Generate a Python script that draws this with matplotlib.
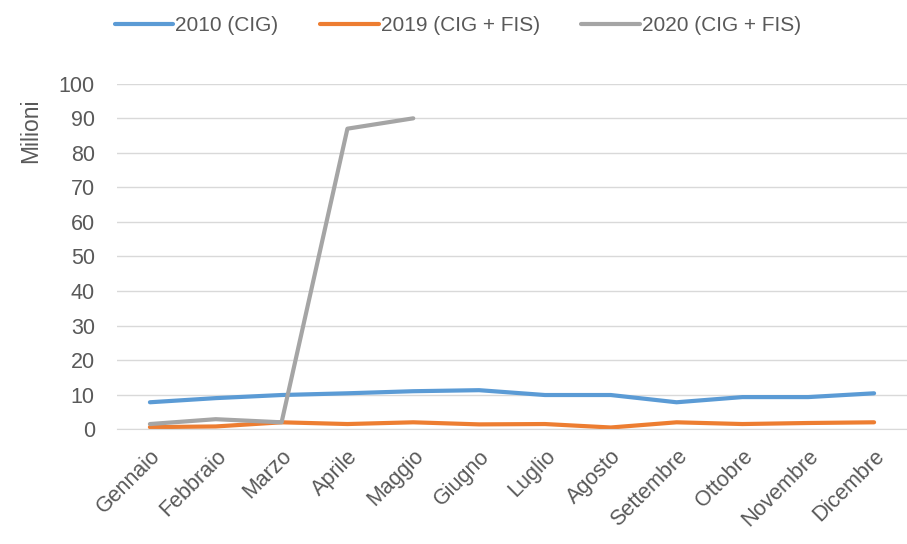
import matplotlib.pyplot as plt

mesi = ['Gennaio', 'Febbraio', 'Marzo', 'Aprile', 'Maggio', 'Giugno',
        'Luglio', 'Agosto', 'Settembre', 'Ottobre', 'Novembre', 'Dicembre']
cig_2010 = [7.8, 9.0, 9.9, 10.4, 11.0, 11.3, 9.9, 9.9, 7.8, 9.3, 9.3, 10.4]
cig_fis_2019 = [0.6, 0.8, 2.0, 1.5, 2.0, 1.4, 1.5, 0.5, 2.0, 1.5, 1.8, 2.0]
cig_fis_2020 = [1.5, 2.9, 2.0, 87.0, 90.0]

plt.rcParams['font.family'] = ['Liberation Sans', 'DejaVu Sans']
grigio = '#595959'

fig = plt.figure(figsize=(9.07, 5.44), dpi=100)
ax = fig.add_axes([0.129, 0.211, 0.871, 0.635])

x = list(range(len(mesi)))
ax.plot(x, cig_2010, color='#5B9BD5', lw=3, solid_capstyle='round', label='2010 (CIG)')
ax.plot(x, cig_fis_2019, color='#ED7D31', lw=3, solid_capstyle='round', label='2019 (CIG + FIS)')
ax.plot(x[:len(cig_fis_2020)], cig_fis_2020, color='#A5A5A5', lw=3,
        solid_capstyle='round', label='2020 (CIG + FIS)')

ax.set_xlim(-0.5, 11.5)
ax.set_ylim(0, 100)
ax.set_yticks(range(0, 101, 10))
ax.set_xticks(x)
ax.set_xticklabels(mesi, rotation=45, ha='right', rotation_mode='anchor')
ax.tick_params(axis='both', length=0, colors=grigio, labelsize=15.5)
ax.tick_params(axis='y', pad=16)
ax.tick_params(axis='x', pad=12)
ax.grid(axis='y', color='#d9d9d9', lw=1)
ax.set_axisbelow(True)
for s in ['top', 'right', 'left']:
    ax.spines[s].set_visible(False)
ax.spines['bottom'].set_color('#d9d9d9')

ax.set_ylabel('Milioni', color=grigio, fontsize=16.5)
ax.yaxis.set_label_coords(-0.095, 0.865)

fig.legend(loc='upper center', bbox_to_anchor=(0.505, 1.005), ncol=3, frameon=False,
           fontsize=15, labelcolor=grigio, handlelength=2.8, handletextpad=0.1,
           columnspacing=2.0)

plt.savefig('out.png', dpi=100)
